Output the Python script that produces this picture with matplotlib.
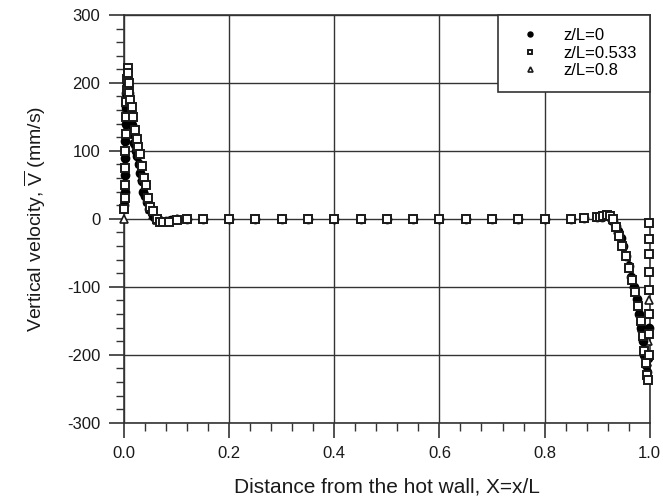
import matplotlib.pyplot as plt
from matplotlib.ticker import MultipleLocator

plt.rcParams['font.family'] = ['Liberation Sans', 'DejaVu Sans']
plt.rcParams['mathtext.fontset'] = 'custom'
plt.rcParams['mathtext.rm'] = 'Liberation Sans'
plt.rcParams['axes.unicode_minus'] = False

interior_x = [0.15, 0.20, 0.25, 0.30, 0.35, 0.40, 0.45, 0.50, 0.55, 0.60,
              0.65, 0.70, 0.75, 0.80, 0.85, 0.875, 0.90]
interior_v = [0, 0, 0, 0, 0, 0, 0, 0, 0, 0, 0, 0, 0, 0, 0, 1, 2]

# z/L = 0
hot_x0 = [0.0005, 0.001, 0.0015, 0.002, 0.0025, 0.003, 0.0035, 0.004, 0.005,
          0.006, 0.007, 0.008, 0.009, 0.010, 0.012, 0.014, 0.016, 0.018, 0.020,
          0.022, 0.025, 0.028, 0.031, 0.034, 0.037, 0.040, 0.044, 0.048, 0.053,
          0.058, 0.064, 0.070, 0.080, 0.090, 0.10, 0.12]
hot_v0 = [20, 40, 65, 90, 115, 140, 165, 185, 200, 212, 205, 195, 185, 170,
          158, 150, 138, 125, 112, 100, 92, 80, 68, 55, 40, 33, 25, 15, 8, 2,
          -2, -3, -3, -2, -1, 0]
cold_x0 = [0.91, 0.915, 0.92, 0.925, 0.93, 0.935, 0.94, 0.945, 0.95, 0.955,
           0.96, 0.965, 0.97, 0.975, 0.98, 0.984, 0.987, 0.99, 0.992, 0.994,
           0.996, 0.998]
cold_v0 = [3, 5, 4, 2, -3, -10, -18, -28, -40, -55, -70, -85, -100, -118,
           -140, -160, -180, -200, -215, -225, -205, -160]

# z/L = 0.533
hot_x1 = [0.0005, 0.001, 0.0015, 0.002, 0.0025, 0.003, 0.0035, 0.004, 0.005,
          0.006, 0.007, 0.008, 0.009, 0.010, 0.012, 0.015, 0.018, 0.021, 0.024,
          0.027, 0.030, 0.034, 0.038, 0.042, 0.046, 0.050, 0.055, 0.062, 0.068,
          0.075, 0.085, 0.10, 0.12]
hot_v1 = [15, 30, 50, 75, 100, 125, 150, 172, 190, 205, 222, 215, 200, 185,
          175, 165, 150, 130, 118, 105, 95, 78, 60, 50, 30, 18, 12, 0, -4, -5,
          -4, -2, 0]
cold_x1 = [0.905, 0.912, 0.918, 0.924, 0.93, 0.936, 0.942, 0.948, 0.954, 0.96,
           0.966, 0.972, 0.978, 0.983, 0.987, 0.99, 0.993, 0.995, 0.997, 0.998,
           0.998, 0.999, 0.999, 0.999, 0.999, 0.999, 0.999]
cold_v1 = [2, 4, 6, 4, 0, -12, -25, -40, -55, -72, -90, -108, -128, -150,
           -172, -195, -212, -230, -237, -200, -170, -140, -105, -78, -52, -29,
           -6]

# z/L = 0.8
hot_x2 = [0.0, 0.001, 0.002, 0.003, 0.004, 0.005, 0.006, 0.008, 0.010, 0.013,
          0.016, 0.019, 0.022, 0.026, 0.030, 0.035, 0.040, 0.045, 0.050, 0.056,
          0.063, 0.072, 0.085, 0.10, 0.12]
hot_v2 = [0, 35, 80, 125, 165, 190, 200, 195, 180, 160, 145, 128, 110, 95,
          82, 62, 40, 26, 14, 5, -2, -3, -3, -1, 0]
cold_x2 = [0.92, 0.93, 0.94, 0.95, 0.96, 0.97, 0.978, 0.985, 0.99, 0.994,
           0.997, 0.999]
cold_v2 = [4, -2, -16, -38, -66, -96, -122, -160, -190, -210, -180, -120]

series = [
    ('z/L=0', hot_x0 + interior_x + cold_x0, hot_v0 + interior_v + cold_v0),
    ('z/L=0.533', hot_x1 + interior_x + cold_x1, hot_v1 + interior_v + cold_v1),
    ('z/L=0.8', hot_x2 + interior_x + cold_x2, hot_v2 + interior_v + cold_v2),
]
styles = [
    dict(marker='o', markersize=6, markerfacecolor='black', markeredgecolor='black',
         zorder=4),
    dict(marker='s', markersize=6, markerfacecolor='white', markeredgecolor='#1a1a1a',
         markeredgewidth=1.4, zorder=5),
    dict(marker='^', markersize=6, markerfacecolor='white', markeredgecolor='#1a1a1a',
         markeredgewidth=1.2, zorder=3),
]

fig = plt.figure(figsize=(6.63, 4.97), dpi=100)
ax = fig.add_axes([0.187, 0.1495, 0.793, 0.8205])

for (label, xs, vs), st in zip(series, styles):
    ax.plot(xs, vs, linestyle='none', label=label, clip_on=False, **st)

ax.set_xlim(0, 1)
ax.set_ylim(-300, 300)
ax.xaxis.set_major_locator(MultipleLocator(0.2))
ax.xaxis.set_minor_locator(MultipleLocator(0.04))
ax.yaxis.set_major_locator(MultipleLocator(100))
ax.yaxis.set_minor_locator(MultipleLocator(20))
ax.set_xticklabels([f'{t:.1f}' for t in ax.get_xticks()])
ax.grid(True, which='major', color='#333333', linewidth=1.0)
ax.set_axisbelow(True)
ax.tick_params(which='major', direction='out', length=11, width=1.2, pad=6,
               labelsize=12, labelcolor='#1a1a1a', color='#333333')
ax.tick_params(which='minor', direction='out', length=6, width=1.0, color='#333333')
for sp in ax.spines.values():
    sp.set_color('#333333')
    sp.set_linewidth(1.2)

ax.set_xlabel('Distance from the hot wall, X=x/L', fontsize=15, labelpad=12,
              color='#1a1a1a')
ax.set_ylabel(r'Vertical velocity, $\overline{\mathrm{V}}$ (mm/s)', fontsize=14,
              labelpad=14, color='#1a1a1a')

leg = ax.legend(loc='upper right', borderaxespad=0, fancybox=False, fontsize=12,
                markerscale=0.6, handletextpad=0.9, borderpad=0.8,
                handlelength=2.2, labelspacing=0.15, framealpha=1)
leg.set_zorder(10)
leg.get_frame().set_edgecolor('#333333')
leg.get_frame().set_linewidth(1.2)

fig.savefig('out.png', dpi=100)
